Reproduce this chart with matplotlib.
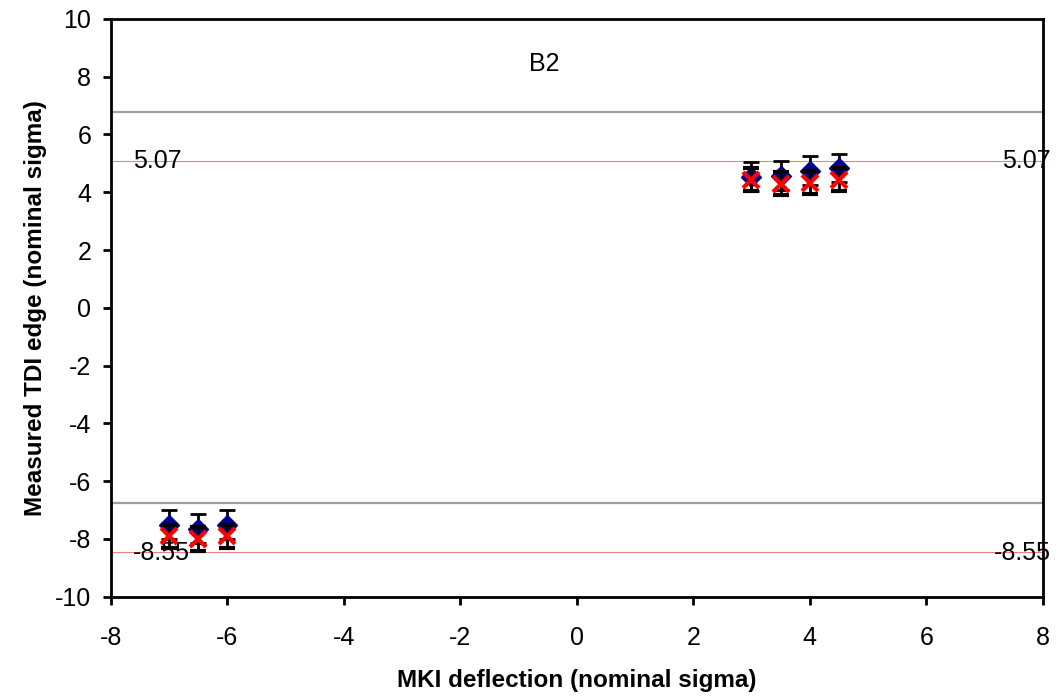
import numpy as np
import matplotlib.pyplot as plt

plt.rcParams['font.family'] = ['Liberation Sans', 'DejaVu Sans']
plt.rcParams['axes.unicode_minus'] = False

# MKI deflection (nominal sigma)
x_neg = [-7.0, -6.5, -6.0]
x_pos = [3.0, 3.5, 4.0, 4.5]

# measured TDI edge, two series
blue_neg = [-7.5, -7.65, -7.5]
red_neg = [-7.9, -8.0, -7.9]
blue_pos = [4.53, 4.57, 4.74, 4.84]
red_pos = [4.43, 4.29, 4.33, 4.43]
err_blue = 0.5
err_red = 0.4

aperture = [6.77, -6.77]
ref_upper, ref_lower = 5.07, -8.45
label_upper, label_lower = "5.07", "-8.55"

fig = plt.figure(figsize=(10.64, 6.98), dpi=100)
ax = fig.add_axes([0.104, 0.145, 0.876, 0.828])

for a in aperture:
    ax.axhline(a, color='#a0a0a0', lw=1.6, zorder=1)
ax.axhline(ref_upper, color='#f08080', lw=0.8, zorder=1)
ax.axhline(ref_lower, color='#f08080', lw=0.8, zorder=1)

xs = x_neg + x_pos
blue = blue_neg + blue_pos
red = red_neg + red_pos
ax.errorbar(xs, blue, yerr=err_blue, fmt='D', color='#000090', ms=10,
            ecolor='black', elinewidth=2, capsize=5.5, capthick=2, zorder=3)
ax.errorbar(xs, red, yerr=err_red, fmt='x', color='red', ms=11, mew=3,
            ecolor='black', elinewidth=2, capsize=5.5, capthick=2, zorder=4)

fs = 18
ax.text(-7.62, ref_upper, label_upper, fontsize=fs, va='center', ha='left')
ax.text(7.3, ref_upper, label_upper, fontsize=fs, va='center', ha='left')
ax.text(-7.62, ref_lower - 0.05, label_lower, fontsize=fs, va='center', ha='left')
ax.text(7.17, ref_lower - 0.05, label_lower, fontsize=fs, va='center', ha='left')
ax.text(-0.55, 8.45, "B2", fontsize=fs, va='center', ha='center')

ax.set_xlim(-8, 8)
ax.set_ylim(-10, 10)
ax.set_xticks(np.arange(-8, 9, 2))
ax.set_yticks(np.arange(-10, 11, 2))
ax.tick_params(direction='out', length=6, width=2, labelsize=fs)
ax.tick_params(axis='x', pad=15)
ax.tick_params(axis='y', pad=8)
for s in ax.spines.values():
    s.set_linewidth(2)
ax.set_xlabel("MKI deflection (nominal sigma)", fontsize=17.5, fontweight='bold', labelpad=14)
ax.set_ylabel("Measured TDI edge (nominal sigma)", fontsize=17.5, fontweight='bold', labelpad=6)

fig.savefig("out.png", dpi=100)
